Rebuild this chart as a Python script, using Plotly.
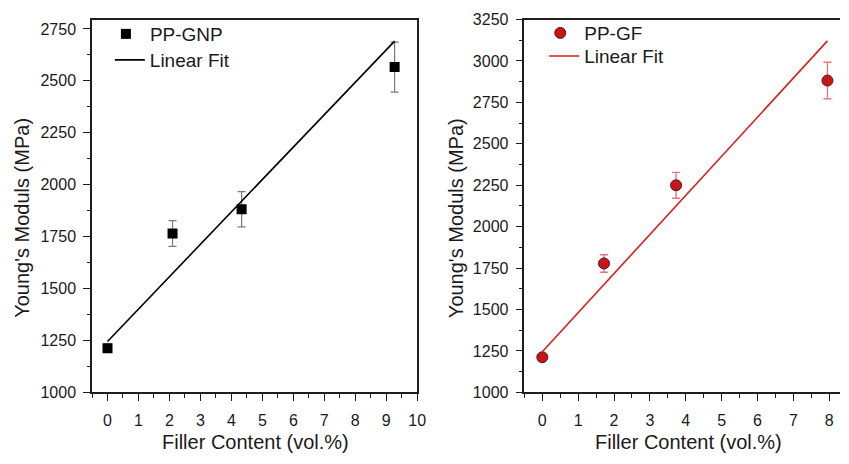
import plotly.graph_objects as go

# ---- data: left panel (PP-GNP) ----
gnp_x = [0, 2.1, 4.33, 9.27]
gnp_y = [1212, 1765, 1882, 2566]
gnp_err = [20, 62, 85, 120]
gnp_fit_intercept = 1245
gnp_fit_slope = 156.0

# ---- data: right panel (PP-GF) ----
gf_x = [0, 1.72, 3.73, 7.95]
gf_y = [1212, 1778, 2250, 2882]
gf_err = [14, 53, 78, 110]
gf_fit_intercept = 1245
gf_fit_slope = 236.0

left_yticks = [1000, 1250, 1500, 1750, 2000, 2250, 2500, 2750]
right_yticks = [1000, 1250, 1500, 1750, 2000, 2250, 2500, 2750, 3000, 3250]
left_xticks = list(range(0, 11))
right_xticks = list(range(0, 9))

FONT = "Arial, Liberation Sans, sans-serif"
AX = "#1e1e1e"
TXT = "#1a1a1a"

fig = go.Figure()

# left
fig.add_trace(go.Scatter(
    x=gnp_x, y=gnp_y, mode="markers", name="PP-GNP",
    marker=dict(symbol="square", size=10, color="#000000"),
    error_y=dict(type="data", array=gnp_err, visible=True, color="#7a7a7a", thickness=1.2, width=4),
    xaxis="x", yaxis="y", legend="legend"))
fig.add_trace(go.Scatter(
    x=[0, gnp_x[-1]], y=[gnp_fit_intercept, gnp_fit_intercept + gnp_fit_slope * gnp_x[-1]],
    mode="lines", name="Linear Fit", line=dict(color="#000000", width=1.6),
    xaxis="x", yaxis="y", legend="legend2"))

# right
fig.add_trace(go.Scatter(
    x=gf_x, y=gf_y, mode="markers", name="PP-GF",
    marker=dict(symbol="circle", size=11, color="#cc1418", line=dict(color="#4a1c1c", width=1)),
    error_y=dict(type="data", array=gf_err, visible=True, color="#e67a7a", thickness=1.4, width=4),
    xaxis="x2", yaxis="y2", legend="legend3"))
fig.add_trace(go.Scatter(
    x=[0, gf_x[-1]], y=[gf_fit_intercept, gf_fit_intercept + gf_fit_slope * gf_x[-1]],
    mode="lines", name="Linear Fit", line=dict(color="#d42020", width=1.6),
    xaxis="x2", yaxis="y2", legend="legend4"))

W, H = 849, 464
ytop, ybot = 12, 399
ydom = [1 - ybot / H, 1 - ytop / H]

tickfont = dict(family=FONT, size=16, color=TXT)
common_axis = dict(showline=True, linecolor=AX, linewidth=1.5, showgrid=False, zeroline=False,
                   ticks="outside", tickcolor=AX, tickwidth=1.3, tickfont=tickfont)
xminor = dict(dtick=0.5, tick0=0, ticks="outside", ticklen=4, tickcolor=AX, tickwidth=1.3)
yminor = dict(dtick=125, tick0=1000, ticks="outside", ticklen=3.5, tickcolor=AX, tickwidth=1.3)

legfont = dict(family=FONT, size=19, color=TXT)


def leg(xpx, ypx, iw):
    return dict(x=xpx / W, y=1 - ypx / H, xanchor="left", yanchor="middle", bgcolor="rgba(0,0,0,0)",
                font=legfont, itemwidth=iw, borderwidth=0)


fig.update_layout(
    width=W, height=H, margin=dict(l=0, r=0, t=0, b=0),
    paper_bgcolor="white", plot_bgcolor="white",
    font=dict(family=FONT, color=TXT),
    xaxis=dict(common_axis, domain=[93 / W, 421.7 / W], range=[-0.5, 10], tickvals=left_xticks,
               ticklen=7, mirror=True, anchor="y", ticklabelstandoff=6, minor=xminor),
    yaxis=dict(common_axis, domain=ydom, range=[1000, 2795], tickvals=left_yticks,
               ticklen=7, mirror=True, anchor="x", ticklabelstandoff=4, minor=yminor),
    xaxis2=dict(common_axis, domain=[530 / W, 1.0], range=[-0.5, 8.3], tickvals=right_xticks,
                ticklen=7, mirror=True, anchor="y2", ticklabelstandoff=6, minor=xminor),
    yaxis2=dict(common_axis, domain=ydom, range=[1000, 3250], tickvals=right_yticks,
                ticklen=7, mirror=False, anchor="x2", ticklabelstandoff=4, minor=yminor),
    legend=leg(103, 27, 38),
    legend2=leg(111, 54, 30),
    legend3=leg(542, 26, 38),
    legend4=leg(550, 50, 30),
    showlegend=True,
)

title_font = dict(family=FONT, size=20, color=TXT)
fig.add_annotation(text="Young's Moduls (MPa)", x=22 / W, y=1 - 218 / H, xref="paper", yref="paper",
                   textangle=-90, showarrow=False, font=title_font, xanchor="center", yanchor="middle")
fig.add_annotation(text="Young's Moduls (MPa)", x=461 / W, y=1 - 218 / H, xref="paper", yref="paper",
                   textangle=-90, showarrow=False, font=title_font, xanchor="center", yanchor="middle")
fig.add_annotation(text="Filler Content (vol.%)", x=258 / W, y=1 - 451 / H, xref="paper", yref="paper",
                   showarrow=False, font=title_font, xanchor="center", yanchor="middle")
fig.add_annotation(text="Filler Content (vol.%)", x=696 / W, y=1 - 451 / H, xref="paper", yref="paper",
                   showarrow=False, font=title_font, xanchor="center", yanchor="middle")

fig.write_html("out.html")
